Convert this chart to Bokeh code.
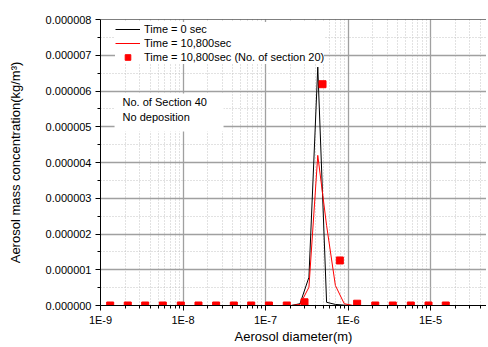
from bokeh.plotting import figure
from bokeh.models import (Legend, LegendItem, FixedTicker, CustomJSTickFormatter,
                          PrintfTickFormatter, Label, BoxAnnotation, Span, Range1d)
from bokeh.embed import file_html
from bokeh.resources import INLINE

# ---- data ----
# 40-section diameters (m)
d40 = [1.16e-9, 1.49e-9, 1.90e-9, 2.43e-9, 3.11e-9, 3.98e-9, 5.09e-9, 6.52e-9,
       8.34e-9, 1.07e-8, 1.36e-8, 1.75e-8, 2.23e-8, 2.86e-8, 3.66e-8, 4.68e-8,
       5.99e-8, 7.66e-8, 9.80e-8, 1.25e-7, 1.60e-7, 2.05e-7, 2.62e-7, 3.36e-7,
       4.30e-7, 5.50e-7, 7.03e-7, 9.00e-7, 1.15e-6, 1.47e-6, 1.88e-6, 2.41e-6,
       3.08e-6, 3.94e-6, 5.05e-6, 6.46e-6, 8.26e-6, 1.06e-5, 1.35e-5, 1.73e-5]
# Time = 0 sec
c_t0 = [0, 0, 0, 0, 0, 0, 0, 0, 0, 0, 0, 0, 0, 0, 0, 0, 0, 0, 0, 0,
        0, 0, 0.05e-6, 0.79e-6, 6.67e-6, 0.09e-6, 0.03e-6, 0.01e-6, 0, 0,
        0, 0, 0, 0, 0, 0, 0, 0, 0, 0]
# Time = 10,800 sec
c_t1 = [0, 0, 0, 0, 0, 0, 0, 0, 0, 0, 0, 0, 0, 0, 0, 0, 0, 0, 0, 0,
        0, 0, 0.03e-6, 0.51e-6, 4.20e-6, 2.24e-6, 0.56e-6, 0.05e-6, 0, 0,
        0, 0, 0, 0, 0, 0, 0, 0, 0, 0]
# 20-section diameters (m) and Time = 10,800 sec values
d20 = [1.31e-9, 2.14e-9, 3.48e-9, 5.69e-9, 9.40e-9, 1.54e-8, 2.52e-8, 4.13e-8,
       6.71e-8, 1.10e-7, 1.81e-7, 2.97e-7, 4.91e-7, 7.96e-7, 1.29e-6, 2.14e-6,
       3.49e-6, 5.77e-6, 9.46e-6, 1.53e-5]
c_s20 = [0, 0, 0, 0, 0, 0, 0, 0, 0, 0, 0, 0.09e-6, 6.19e-6, 1.26e-6, 0.05e-6,
         0, 0, 0, 0, 0]

x_major = [1e-9, 1e-8, 1e-7, 1e-6, 1e-5]
y_major = [0, 1e-6, 2e-6, 3e-6, 4e-6, 5e-6, 6e-6, 7e-6, 8e-6]

legend_labels = ["Time = 0 sec", "Time = 10,800sec", "Time = 10,800sec (No. of section 20)"]
note_lines = ["No. of Section 40", "No deposition"]

FONT = "Liberation Sans"

x_minor = [m * e for e in [1e-9, 1e-8, 1e-7, 1e-6, 1e-5] for m in range(2, 10)]
y_minor = [v + 0.5e-6 for v in y_major[:-1]]

p = figure(width=486, height=346, x_axis_type="log",
           x_range=Range1d(1e-9, 4.77e-5), y_range=Range1d(0, 8e-6),
           output_backend="svg", toolbar_location=None,
           min_border_left=100, min_border_right=0, min_border_top=19, min_border_bottom=40)
p.outline_line_color = None
p.background_fill_color = "white"

p.xaxis.ticker = FixedTicker(ticks=x_major, minor_ticks=x_minor)
p.yaxis.ticker = FixedTicker(ticks=y_major, minor_ticks=y_minor)
p.xaxis.formatter = CustomJSTickFormatter(code="return '1E' + Math.round(Math.log10(tick));")
p.yaxis.formatter = PrintfTickFormatter(format="%.6f")

for ax in (p.xaxis, p.yaxis):
    ax.axis_line_color = "black"
    ax.major_tick_line_color = "black"
    ax.minor_tick_line_color = "black"
    ax.major_tick_out = 5
    ax.major_tick_in = 0
    ax.minor_tick_out = 3
    ax.minor_tick_in = 0
    ax.major_label_text_font = FONT
    ax.major_label_text_font_size = "11px"
    ax.major_label_text_color = "black"
    ax.major_label_standoff = 4
    ax.axis_label_text_font = FONT
    ax.axis_label_text_font_size = "13px"
    ax.axis_label_text_font_style = "normal"
    ax.axis_label_text_color = "black"

p.xaxis.axis_label = "Aerosol diameter(m)"
p.yaxis.axis_label = "Aerosol mass concentration(kg/m³)"
p.xaxis.major_label_standoff = 3
p.xaxis.axis_label_standoff = 0
p.yaxis.axis_label_standoff = 20

for g in (p.xgrid, p.ygrid):
    g.grid_line_color = "#a0a0a0"
    g.grid_line_width = 1.3
    g.minor_grid_line_color = "#c4c4c4"
    g.minor_grid_line_dash = "1 2"
    g.minor_grid_line_width = 1

r0 = p.line(d40, c_t0, line_color="black", line_width=1)
r1 = p.line(d40, c_t1, line_color="red", line_width=1)
r2 = p.scatter(d20, c_s20, marker="square", size=7, fill_color="red", line_color="red")

p.add_layout(Span(location=8e-6, dimension="width", line_color="black", line_width=1))

legend = Legend(items=[LegendItem(label=legend_labels[0], renderers=[r0]),
                       LegendItem(label=legend_labels[1], renderers=[r1]),
                       LegendItem(label=legend_labels[2], renderers=[r2])],
                location=(15, 241), padding=3, spacing=0, margin=0,
                glyph_width=25, glyph_height=14, label_height=14, label_standoff=4,
                label_text_font=FONT, label_text_font_size="11px", label_text_color="black",
                background_fill_color="white", background_fill_alpha=1.0,
                border_line_color=None)
p.add_layout(legend)

p.add_layout(BoxAnnotation(left=1.48e-9, right=3.1e-8, bottom=4.87e-6, top=5.93e-6,
                           fill_color="white", fill_alpha=1.0, line_color=None))
p.add_layout(Label(x=1.85e-9, y=5.68e-6, text=note_lines[0], text_font=FONT,
                   text_font_size="11px", text_baseline="middle", text_color="black"))
p.add_layout(Label(x=1.85e-9, y=5.26e-6, text=note_lines[1], text_font=FONT,
                   text_font_size="11px", text_baseline="middle", text_color="black"))

open("out.html", "w").write(file_html(p, INLINE))
